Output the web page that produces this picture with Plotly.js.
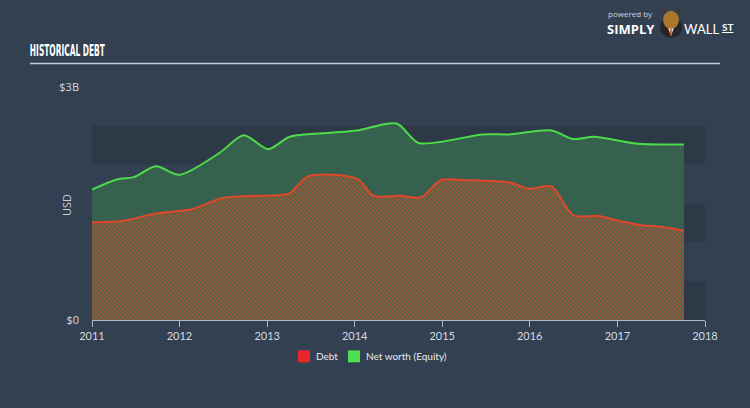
<!DOCTYPE html>
<html>
<head>
<meta charset="utf-8">
<script src="https://cdn.plot.ly/plotly-3.0.1.min.js"></script>
<style>
html,body{margin:0;padding:0;background:#334051;}
#chart{width:750px;height:408px;}
</style>
</head>
<body>
<div id="chart"></div>
<script>
// Net worth (Equity), USD billions
const equityDates = ['2011-01-01','2011-04-15','2011-06-25','2011-09-25','2012-01-01','2012-06-15','2012-09-25','2013-01-05','2013-04-05','2013-09-20','2014-01-10','2014-06-25','2014-09-25','2015-06-20','2015-10-10','2016-04-01','2016-06-30','2016-09-25','2017-03-25','2017-10-05'];
const equityValues = [1.68,1.81,1.84,1.98,1.87,2.15,2.38,2.20,2.36,2.41,2.44,2.53,2.28,2.39,2.39,2.44,2.33,2.36,2.27,2.26];

// Debt, USD billions
const debtDates = ['2011-01-01','2011-04-25','2011-09-25','2012-02-25','2012-06-30','2013-02-25','2013-04-05','2013-06-20','2014-01-10','2014-03-20','2014-07-10','2014-10-05','2014-12-25','2015-04-15','2015-10-10','2015-12-28','2016-04-01','2016-06-30','2016-10-15','2017-01-01','2017-04-10','2017-07-01','2017-10-05'];
const debtValues = [1.26,1.27,1.37,1.43,1.57,1.61,1.63,1.85,1.82,1.60,1.60,1.58,1.80,1.80,1.77,1.69,1.72,1.35,1.34,1.28,1.22,1.20,1.15];

const xTickVals = ['2011-01-01','2012-01-01','2013-01-01','2014-01-01','2015-01-01','2016-01-01','2017-01-01','2018-01-01'];
const xTickText = ['2011','2012','2013','2014','2015','2016','2017','2018'];
const yTickVals = [0, 3];
const yTickText = ['$0', '$3B'];
const bandRanges = [[0,0.5],[1,1.5],[2,2.5]];
const legendNames = ['Debt', 'Net worth (Equity)'];
const legendColors = ['#e8262a', '#4fe04f'];

function px(x){return (x-92)/613;}
function py(y){return (320.5-y)/234;}

const traces = [
  {
    type: 'scatter', mode: 'lines', x: debtDates, y: debtValues, name: legendNames[0],
    line: {color: '#e0472b', width: 2, shape: 'spline', smoothing: 0.8},
    fill: 'tozeroy',
    fillcolor: '#3c6a52',
    fillpattern: {shape: '\\', fgcolor: '#b0502f', bgcolor: '#3c6a52', size: 3, solidity: 0.5},
    showlegend: false, hoverinfo: 'skip'
  },
  {
    type: 'scatter', mode: 'lines', x: equityDates, y: equityValues, name: legendNames[1],
    line: {color: '#4ddb4a', width: 2, shape: 'spline', smoothing: 0.8},
    fill: 'tonexty', fillcolor: '#35614e',
    showlegend: false, hoverinfo: 'skip'
  }
];

const shapes = bandRanges.map(r => ({
  type: 'rect', xref: 'paper', yref: 'y', x0: 0, x1: 1, y0: r[0], y1: r[1],
  fillcolor: '#2e3948', line: {width: 0}, layer: 'below'
}));
// title underline
shapes.push({type: 'line', xref: 'paper', yref: 'paper', x0: px(30), x1: px(720),
  y0: py(63), y1: py(63), line: {color: '#c3cad3', width: 1.5}});
// logo icon
shapes.push({type: 'circle', xref: 'paper', yref: 'paper',
  x0: px(660), x1: px(682), y0: py(37), y1: py(16), fillcolor: '#262628', line: {width: 0}});
shapes.push({type: 'path', xref: 'paper', yref: 'paper',
  path: 'M ' + px(668) + ' ' + py(27) + ' L ' + px(674) + ' ' + py(27) + ' L ' + px(671) + ' ' + py(35) + ' Z',
  fillcolor: '#e8e8e8', line: {width: 0}});
shapes.push({type: 'path', xref: 'paper', yref: 'paper',
  path: 'M ' + px(663) + ' ' + py(13) + ' L ' + px(661) + ' ' + py(7) + ' L ' + px(666) + ' ' + py(11) + ' Z',
  fillcolor: '#4a3520', line: {width: 0}});
shapes.push({type: 'path', xref: 'paper', yref: 'paper',
  path: 'M ' + px(679) + ' ' + py(13) + ' L ' + px(681) + ' ' + py(7) + ' L ' + px(676) + ' ' + py(11) + ' Z',
  fillcolor: '#4a3520', line: {width: 0}});
shapes.push({type: 'circle', xref: 'paper', yref: 'paper',
  x0: px(663), x1: px(679), y0: py(28), y1: py(10), fillcolor: '#a9762c', line: {width: 0}});
shapes.push({type: 'line', xref: 'paper', yref: 'paper',
  x0: px(671), x1: px(671), y0: py(28), y1: py(35), line: {color: '#d2541c', width: 1.5}});
// legend squares
shapes.push({type: 'rect', xref: 'paper', yref: 'paper', x0: px(298), x1: px(310), y0: py(363), y1: py(351),
  fillcolor: legendColors[0], line: {width: 0}});
shapes.push({type: 'rect', xref: 'paper', yref: 'paper', x0: px(348), x1: px(360), y0: py(363), y1: py(351),
  fillcolor: legendColors[1], line: {width: 0}});

const annotations = [
  {text: '<b>HISTORICAL DEBT</b>', xref: 'paper', yref: 'paper', x: px(67.5), y: py(50),
   xanchor: 'center', yanchor: 'middle', showarrow: false,
   font: {family: 'DejaVu Sans Condensed, DejaVu Sans, sans-serif', size: 16, color: '#ffffff'}},
  {text: 'powered by', xref: 'paper', yref: 'paper', x: px(606), y: py(13),
   xanchor: 'left', yanchor: 'middle', showarrow: false,
   font: {family: 'Open Sans, sans-serif', size: 8, color: '#d0d4da'}},
  {text: '<b>SIMPLY</b>', xref: 'paper', yref: 'paper', x: px(605), y: py(28),
   xanchor: 'left', yanchor: 'middle', showarrow: false,
   font: {family: 'Open Sans, sans-serif', size: 13, color: '#ffffff'}},
  {text: 'WALL', xref: 'paper', yref: 'paper', x: px(682), y: py(28),
   xanchor: 'left', yanchor: 'middle', showarrow: false,
   font: {family: 'Lato, sans-serif', size: 13, color: '#ffffff'}},
  {text: '<b><u>ST</u></b>', xref: 'paper', yref: 'paper', x: px(720), y: py(26),
   xanchor: 'left', yanchor: 'middle', showarrow: false,
   font: {family: 'Lato, sans-serif', size: 10, color: '#ffffff'}},
  {text: 'USD', xref: 'paper', yref: 'paper', x: px(67), y: py(205), textangle: -90,
   xanchor: 'center', yanchor: 'middle', showarrow: false,
   font: {family: 'Open Sans, sans-serif', size: 11, color: '#c8ced6'}},
  {text: legendNames[0], xref: 'paper', yref: 'paper', x: px(314), y: py(357),
   xanchor: 'left', yanchor: 'middle', showarrow: false,
   font: {family: 'Lato, sans-serif', size: 10, color: '#e6e9ed'}},
  {text: legendNames[1], xref: 'paper', yref: 'paper', x: px(364), y: py(357),
   xanchor: 'left', yanchor: 'middle', showarrow: false,
   font: {family: 'Lato, sans-serif', size: 10, color: '#e6e9ed'}}
];

const layout = {
  width: 750, height: 408,
  margin: {l: 92, r: 45, t: 86.5, b: 87.5},
  paper_bgcolor: '#334051', plot_bgcolor: 'rgba(0,0,0,0)',
  showlegend: false,
  xaxis: {
    type: 'date', range: ['2011-01-01', '2018-01-01'],
    tickvals: xTickVals, ticktext: xTickText,
    showgrid: false, zeroline: false, showline: true, linecolor: '#aeb8c4', linewidth: 1,
    ticks: 'outside', ticklen: 6, tickcolor: '#aeb8c4',
    tickfont: {family: 'Lato, sans-serif', size: 11, color: '#d5dae0'}, fixedrange: true
  },
  yaxis: {
    range: [0, 3], tickvals: yTickVals, ticktext: yTickText,
    showgrid: false, zeroline: false, showline: false, ticks: '',
    ticklabelstandoff: 12,
    tickfont: {family: 'Open Sans, sans-serif', size: 11, color: '#d5dae0'},
    fixedrange: true
  },
  shapes: shapes,
  annotations: annotations
};

Plotly.newPlot('chart', traces, layout, {displayModeBar: false, staticPlot: true}).then(function(gd){
  // condense the section title to the narrow width of the original
  const texts = gd.querySelectorAll('.annotation-text');
  texts.forEach(function(t){
    if (t.textContent === 'HISTORICAL DEBT') {
      t.setAttribute('textLength', '75');
      t.setAttribute('lengthAdjust', 'spacingAndGlyphs');
    }
  });
});
</script>
</body>
</html>
